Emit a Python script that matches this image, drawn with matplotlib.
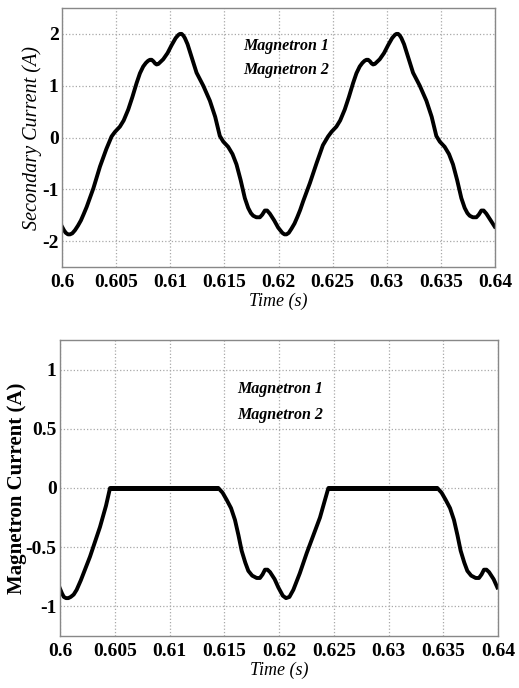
import matplotlib.pyplot as plt

# Secondary current (A)
t_sec = [0.6000, 0.60018, 0.60035, 0.60055, 0.60074, 0.60095, 0.6012, 0.60148, 0.60175, 0.602,
         0.60228, 0.6029, 0.60351, 0.6041, 0.60458, 0.6049, 0.60535, 0.6057, 0.60612, 0.6065,
         0.60689, 0.6072, 0.6075, 0.60775, 0.60795, 0.60812, 0.60828, 0.60845, 0.6086, 0.60874,
         0.6089, 0.6091, 0.60935, 0.60975, 0.61012, 0.6105, 0.61075, 0.61089, 0.61105, 0.6112,
         0.61135, 0.6116, 0.6119, 0.61243, 0.61305, 0.61366, 0.61415, 0.61458, 0.6149, 0.61535,
         0.61575, 0.61612, 0.6165, 0.61689, 0.6172, 0.61745, 0.61766, 0.61795, 0.61828, 0.6185,
         0.61874, 0.61895, 0.6192, 0.6196, 0.61997, 0.62035, 0.62055, 0.62074, 0.62095, 0.6212,
         0.62148, 0.62175, 0.622, 0.62228, 0.6229, 0.62351, 0.6241, 0.62458,
         0.6249, 0.62535, 0.6257, 0.62612, 0.6265, 0.62689, 0.6272, 0.6275, 0.62775, 0.62795,
         0.62812, 0.62828, 0.62845, 0.6286, 0.62874, 0.6289, 0.6291, 0.62935, 0.62975, 0.63012,
         0.6305, 0.63075, 0.63089, 0.63105, 0.6312, 0.63135, 0.6316, 0.6319, 0.63243, 0.63305,
         0.63366, 0.63415, 0.63458, 0.6349, 0.63535, 0.63575, 0.63612, 0.6365, 0.63689, 0.6372,
         0.63745, 0.63766, 0.63795, 0.63828, 0.6385, 0.63874, 0.63895, 0.6392, 0.6396, 0.63997]
i_sec = [-1.72, -1.79, -1.84, -1.87, -1.87, -1.85, -1.79, -1.70, -1.60, -1.48,
         -1.34, -0.98, -0.56, -0.22, 0.02, 0.11, 0.21, 0.33, 0.54, 0.78,
         1.05, 1.24, 1.37, 1.44, 1.48, 1.50, 1.50, 1.47, 1.43, 1.41,
         1.42, 1.46, 1.51, 1.63, 1.78, 1.92, 1.98, 2.00, 2.00, 1.97,
         1.92, 1.80, 1.60, 1.25, 1.00, 0.71, 0.40, 0.03, -0.08, -0.18,
         -0.32, -0.52, -0.82, -1.17, -1.36, -1.46, -1.51, -1.54, -1.54, -1.49,
         -1.41, -1.41, -1.47, -1.60, -1.74, -1.84, -1.87, -1.87, -1.84, -1.76,
         -1.66, -1.53, -1.40, -1.23, -0.88, -0.50, -0.15, 0.02,
         0.11, 0.21, 0.33, 0.54, 0.78, 1.05, 1.24, 1.37, 1.44, 1.48,
         1.50, 1.50, 1.47, 1.43, 1.41, 1.42, 1.46, 1.51, 1.63, 1.78,
         1.92, 1.98, 2.00, 2.00, 1.97, 1.92, 1.80, 1.60, 1.25, 1.00,
         0.71, 0.40, 0.03, -0.08, -0.18, -0.32, -0.52, -0.82, -1.17, -1.36,
         -1.46, -1.51, -1.54, -1.54, -1.49, -1.41, -1.41, -1.47, -1.60, -1.72]

# Magnetron current (A)
t_mag = [0.6000, 0.60018, 0.60035, 0.60055, 0.60076, 0.60098, 0.60125, 0.60152, 0.6019, 0.60274,
         0.60365, 0.6042, 0.60457, 0.61446, 0.61485, 0.61522, 0.61562, 0.61598, 0.6163, 0.61659,
         0.61692, 0.6172, 0.61755, 0.61796, 0.61826, 0.6185, 0.61872, 0.61895, 0.61918, 0.6196,
         0.61994, 0.62035, 0.62064, 0.62095, 0.62131, 0.6219, 0.62253, 0.62374, 0.6242, 0.62451,
         0.63446, 0.63485, 0.63522, 0.63562, 0.63598, 0.6363, 0.63659, 0.63692, 0.6372, 0.63755,
         0.63796, 0.63826, 0.6385, 0.63872, 0.63895, 0.63918, 0.6396, 0.63994]
i_mag = [-0.85, -0.89, -0.92, -0.93, -0.93, -0.92, -0.90, -0.86, -0.78, -0.58,
         -0.33, -0.15, 0.0, 0.0, -0.04, -0.10, -0.17, -0.27, -0.40, -0.53,
         -0.63, -0.70, -0.74, -0.76, -0.76, -0.73, -0.69, -0.69, -0.71, -0.77,
         -0.84, -0.91, -0.93, -0.92, -0.86, -0.72, -0.55, -0.25, -0.10, 0.0,
         0.0, -0.04, -0.10, -0.17, -0.27, -0.40, -0.53, -0.63, -0.70, -0.74,
         -0.76, -0.76, -0.73, -0.69, -0.69, -0.71, -0.77, -0.84]

xticks = [0.6, 0.605, 0.61, 0.615, 0.62, 0.625, 0.63, 0.635, 0.64]
xtick_labels = ['0.6', '0.605', '0.61', '0.615', '0.62', '0.625', '0.63', '0.635', '0.64']

plt.rcParams['font.family'] = 'Liberation Serif'

fig = plt.figure(figsize=(5.19, 6.88), dpi=100)
ax1 = fig.add_axes([62 / 519, 1 - 267 / 688, 433 / 519, 259 / 688])
ax2 = fig.add_axes([60 / 519, 1 - 636 / 688, 438 / 519, 296 / 688])


def style(ax, yticks, ylabels):
    ax.set_xlim(0.6, 0.64)
    ax.set_xticks(xticks)
    ax.set_xticklabels(xtick_labels, fontsize=14, fontweight='bold')
    ax.set_yticks(yticks)
    ax.set_yticklabels(ylabels, fontsize=14, fontweight='bold')
    ax.grid(True, linestyle=':', color='#a8a8a8', linewidth=0.9)
    ax.tick_params(axis='x', length=0, pad=5)
    ax.tick_params(axis='y', length=0, pad=2.5)
    for s in ax.spines.values():
        s.set_color('#888888')
        s.set_linewidth(1.0)
    ax.set_xlabel('Time (s)', fontsize=13, style='italic', labelpad=1)


ax1.plot(t_sec, i_sec, color='black', linewidth=2.8)
ax1.set_ylim(-2.5, 2.5)
style(ax1, [-2, -1, 0, 1, 2], ['-2', '-1', '0', '1', '2'])
ax1.set_ylabel('Secondary Current (A)', fontsize=14.5, style='italic')
ax1.yaxis.set_label_coords(-0.046, 0.5)
ax1.text(0.6207, 1.76, 'Magnetron 1', fontsize=11.5, style='italic', fontweight='bold',
         ha='center', va='center')
ax1.text(0.6207, 1.31, 'Magnetron 2', fontsize=11.5, style='italic', fontweight='bold',
         ha='center', va='center')

ax2.plot(t_mag, i_mag, color='black', linewidth=2.8)
ax2.plot([0.60457, 0.61446], [0.0, 0.0], color='black', linewidth=3.6, solid_capstyle='butt')
ax2.plot([0.62451, 0.63446], [0.0, 0.0], color='black', linewidth=3.6, solid_capstyle='butt')
ax2.set_ylim(-1.25, 1.25)
style(ax2, [-1, -0.5, 0, 0.5, 1], ['-1', '-0.5', '0', '0.5', '1'])
ax2.set_ylabel('Magnetron Current (A)', fontsize=15, fontweight='bold')
ax2.yaxis.set_label_coords(-0.075, 0.5)
ax2.text(0.6201, 0.84, 'Magnetron 1', fontsize=11.5, style='italic', fontweight='bold',
         ha='center', va='center')
ax2.text(0.6201, 0.62, 'Magnetron 2', fontsize=11.5, style='italic', fontweight='bold',
         ha='center', va='center')

fig.savefig('out.png', dpi=100)
